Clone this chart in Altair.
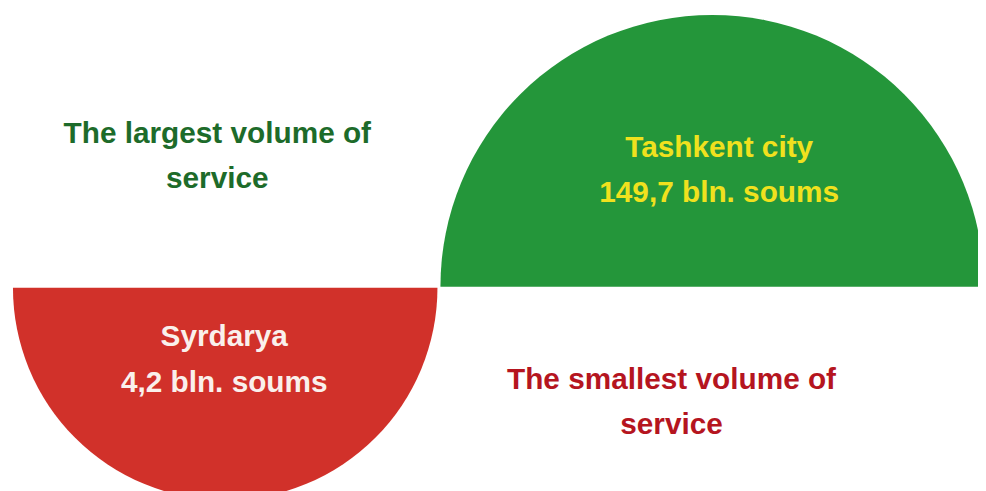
import math
import altair as alt
import pandas as pd

# ---- data ----
regions = ["Tashkent city", "Syrdarya"]
values = [149.7, 4.2]
value_labels = ["149,7 bln. soums", "4,2 bln. soums"]
captions = ["The largest volume of\nservice", "The smallest volume of\nservice"]

df = pd.DataFrame({
    "region": regions,
    "value": values,
    "value_label": value_labels,
    "caption": captions,
})
df["inner"] = df["region"] + "\n" + df["value_label"]

GREEN = "#24963a"
RED = "#d1312a"
color = alt.Color("region:N", scale=alt.Scale(domain=regions, range=[GREEN, RED]), legend=None)

base = alt.Chart(df)
FONT = "Liberation Sans"

green_arc = base.transform_filter(alt.datum.region == "Tashkent city").mark_arc(
    theta=1.5 * math.pi, theta2=2.5 * math.pi, radius=274, stroke=None
).encode(x=alt.value(710), y=alt.value(279), color=color)

red_arc = base.transform_filter(alt.datum.region == "Syrdarya").mark_arc(
    theta=0.5 * math.pi, theta2=1.5 * math.pi, radius=214, stroke=None
).encode(x=alt.value(219), y=alt.value(280), color=color)

def txt(region, field, x, y, col):
    return base.transform_filter(alt.datum.region == region).mark_text(
        font=FONT, fontSize=30, fontWeight="bold", lineBreak="\n", lineHeight=46,
        align="center", baseline="middle", color=col
    ).encode(text=f"{field}:N", x=alt.value(x), y=alt.value(y))

t1 = txt("Tashkent city", "caption", 211, 125, "#1d6b2a")
t2 = txt("Tashkent city", "inner", 717, 139, "#f0e11e")
t3 = txt("Syrdarya", "inner", 218, 330, "#faf0ec")
t4 = txt("Syrdarya", "caption", 669, 373, "#b5151f")

chart = alt.layer(green_arc, red_arc, t1, t2, t3, t4).properties(
    width=978, height=483, autosize="none", padding=0, background="white"
).configure_view(stroke=None)

chart.save("out.html", embed_options={"renderer": "svg", "actions": False})
